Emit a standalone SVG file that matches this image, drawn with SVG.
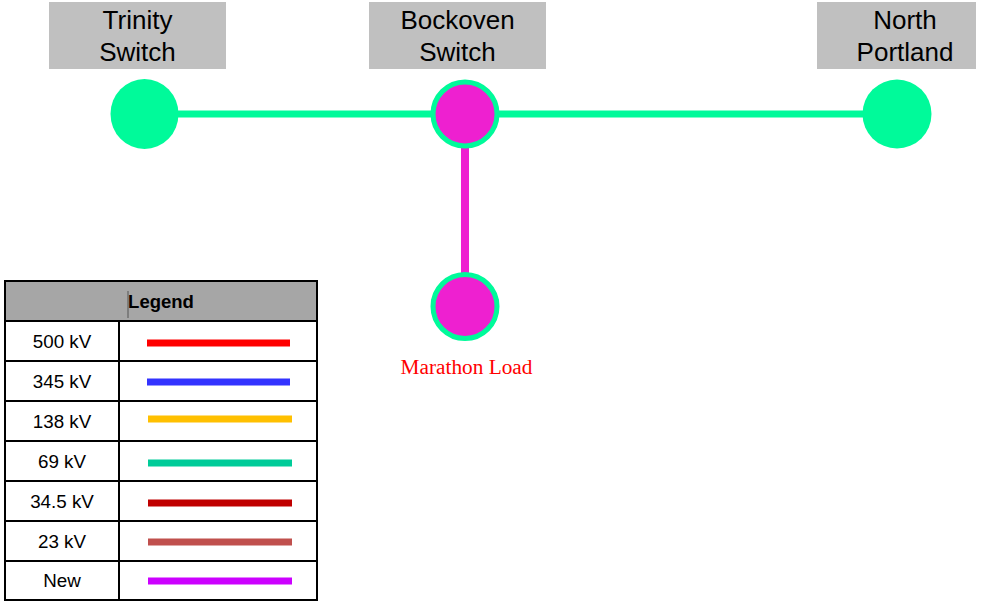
<svg xmlns="http://www.w3.org/2000/svg" width="994" height="602" viewBox="0 0 994 602">
<style>
.lbl{fill:#c0c0c0}
.lt{font-family:"Liberation Sans",Arial,sans-serif;font-size:26px;fill:#000;text-anchor:middle}
.bus{fill:#00fa9a}
.load{fill:#ee20d0;stroke:#00fa9a;stroke-width:5}
.cell{fill:#fff;stroke:#000;stroke-width:2}
.kv{font-family:"Liberation Sans",Arial,sans-serif;font-size:18.8px;fill:#000;text-anchor:middle}
.ll{stroke-width:7;fill:none}
</style>
<rect width="994" height="602" fill="#fff"/>
<g id="connectors">
<line x1="144" y1="114" x2="897" y2="114" stroke="#00fa9a" stroke-width="7"/>
<line x1="465" y1="145" x2="465" y2="275" stroke="#ee20d0" stroke-width="8"/>
</g>
<g id="trinity">
<rect class="lbl" x="49" y="2" width="177" height="67"/>
<text class="lt" x="137.5" y="29">Trinity</text>
<text class="lt" x="137.5" y="61">Switch</text>
<ellipse class="bus" cx="144.5" cy="114" rx="34" ry="35"/>
</g>
<g id="bockoven">
<rect class="lbl" x="369" y="2" width="177" height="67"/>
<text class="lt" x="457.5" y="29">Bockoven</text>
<text class="lt" x="457.5" y="61">Switch</text>
<circle class="load" cx="465" cy="114" r="32"/>
</g>
<g id="northportland">
<rect class="lbl" x="817" y="2" width="159" height="67"/>
<text class="lt" x="905" y="29">North</text>
<text class="lt" x="905" y="61">Portland</text>
<circle class="bus" cx="897" cy="114" r="34.5"/>
</g>
<g id="marathon">
<circle class="load" cx="465" cy="306.5" r="32"/>
<text x="466.5" y="374" font-family="'Liberation Serif','Times New Roman',serif" font-size="21.3" fill="#ff0000" text-anchor="middle">Marathon Load</text>
</g>
<g id="legend">
<rect x="5" y="281" width="312" height="40" fill="#a6a6a6" stroke="#000" stroke-width="2"/>
<line x1="128" y1="291" x2="128" y2="318" stroke="#555" stroke-width="1"/>
<text x="161" y="308" font-family="'Liberation Sans',Arial,sans-serif" font-size="18.5" font-weight="bold" text-anchor="middle">Legend</text>
<rect class="cell" x="5" y="321" width="114" height="40"/><rect class="cell" x="119" y="321" width="198" height="40"/>
<rect class="cell" x="5" y="361" width="114" height="40"/><rect class="cell" x="119" y="361" width="198" height="40"/>
<rect class="cell" x="5" y="401" width="114" height="40"/><rect class="cell" x="119" y="401" width="198" height="40"/>
<rect class="cell" x="5" y="441" width="114" height="40"/><rect class="cell" x="119" y="441" width="198" height="40"/>
<rect class="cell" x="5" y="481" width="114" height="40"/><rect class="cell" x="119" y="481" width="198" height="40"/>
<rect class="cell" x="5" y="521" width="114" height="40"/><rect class="cell" x="119" y="521" width="198" height="40"/>
<rect class="cell" x="5" y="561" width="114" height="39"/><rect class="cell" x="119" y="561" width="198" height="39"/>
<text class="kv" x="62" y="348">500 kV</text>
<text class="kv" x="62" y="388">345 kV</text>
<text class="kv" x="62" y="428">138 kV</text>
<text class="kv" x="62" y="468">69 kV</text>
<text class="kv" x="62" y="508">34.5 kV</text>
<text class="kv" x="62" y="548">23 kV</text>
<text class="kv" x="62" y="587">New</text>
<line class="ll" x1="147" y1="343" x2="290" y2="343" stroke="#ff0000"/>
<line class="ll" x1="147" y1="382" x2="290" y2="382" stroke="#3333ff"/>
<line class="ll" x1="148" y1="419" x2="292" y2="419" stroke="#ffc000"/>
<line class="ll" x1="148" y1="463" x2="292" y2="463" stroke="#00cc99"/>
<line class="ll" x1="148" y1="503" x2="292" y2="503" stroke="#c00000"/>
<line class="ll" x1="148" y1="542" x2="292" y2="542" stroke="#c0504d"/>
<line class="ll" x1="148" y1="581" x2="292" y2="581" stroke="#cc00ff"/>
</g>
</svg>
